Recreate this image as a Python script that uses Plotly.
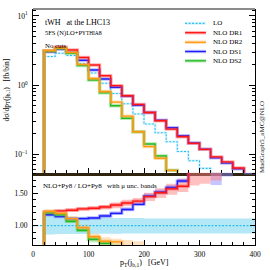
import plotly.graph_objects as go
from plotly.subplots import make_subplots

# ---------------- data ----------------
bin_left = [20, 40, 60, 80, 100, 120, 140, 160, 180, 200, 220, 240, 260, 280, 300, 320, 340, 360, 380]
x_max = 400

lo_main = [2.59, 2.88, 2.68, 2.05, 1.49, 1.06, 0.753, 0.536, 0.38, 0.272, 0.204, 0.151, 0.109, 0.080, 0.062, 0.047, 0.037, 0.029, 0.023]
dr1_main = [3.13, 3.52, 3.21, 2.50, 1.95, 1.36, 0.98, 0.70, 0.525, 0.40, 0.304, 0.23, 0.178, 0.143, 0.117, 0.091, 0.077, 0.063, 0.048]
ds1_main = [3.03, 3.28, 2.97, 2.28, 1.65, 1.22, 0.93, 0.69, 0.51, 0.40, 0.31, 0.24, 0.184, 0.145, 0.118, 0.088, 0.074, 0.061, 0.048]
dr2_main = [3.16, 3.43, 2.97, 1.99, 1.24, 0.805, 0.565, 0.355, 0.21, 0.128, 0.087, 0.058, 0.040, 0.030, 0.024, 0.019, 0.015, 0.012, 0.010]
ds2_main = [3.10, 3.37, 2.87, 1.91, 1.18, 0.77, 0.50, 0.33, 0.21, 0.14, 0.094, 0.058, 0.040, 0.030, 0.025, 0.020, 0.016, 0.013, 0.010]

# ratio panel (NLO+Py8 / LO+Py8)
lo_ratio_left = [0, 20, 40, 60, 80, 100, 120, 140, 160, 180, 200, 220, 240, 260, 280, 300, 320, 340, 360, 380]
lo_ratio = [1.0, 1.0, 1.0, 1.0, 1.0, 1.0, 1.0, 1.0, 1.0, 1.0, 1.0, 1.0, 1.0, 1.0, 1.0, 1.0, 1.0, 1.0, 1.0, 1.0]
lo_band_lo = [0.865, 0.87, 0.87, 0.87, 0.875, 0.875, 0.875, 0.88, 0.88, 0.88, 0.88, 0.88, 0.88, 0.88, 0.88, 0.88, 0.88, 0.88, 0.88]
lo_band_hi = [1.17, 1.15, 1.14, 1.14, 1.13, 1.13, 1.12, 1.12, 1.12, 1.11, 1.11, 1.11, 1.11, 1.11, 1.11, 1.11, 1.11, 1.11, 1.11]

dr1_ratio = [1.21, 1.23, 1.24, 1.26, 1.27, 1.29, 1.32, 1.35, 1.38, 1.45, 1.51, 1.57, 1.61, 1.95, 1.95, 1.95, 1.95, 1.95, 1.95]
dr1_band_lo = [1.19, 1.20, 1.22, 1.23, 1.24, 1.25, 1.27, 1.30, 1.32, 1.38, 1.43, 1.48, 1.52, 1.62, 1.65, 1.70, 1.90, 1.90, 1.90]
dr1_band_hi = [1.24, 1.25, 1.27, 1.29, 1.30, 1.32, 1.36, 1.40, 1.43, 1.51, 1.58, 1.65, 1.72, 2.10, 2.10, 2.10, 2.10, 2.10, 2.10]

ds1_ratio = [1.17, 1.14, 1.11, 1.11, 1.12, 1.15, 1.19, 1.25, 1.33, 1.46, 1.52, 1.59, 1.69, 1.95, 1.95, 1.95, 1.95, 1.95, 1.95]
ds1_band_lo = [1.15, 1.12, 1.09, 1.09, 1.10, 1.13, 1.17, 1.23, 1.31, 1.44, 1.49, 1.56, 1.66, 1.85, 1.85, 1.63, 1.76, 1.90, 1.79]
ds1_band_hi = [1.19, 1.16, 1.13, 1.13, 1.14, 1.18, 1.22, 1.28, 1.36, 1.50, 1.56, 1.63, 1.73, 2.10, 2.10, 2.10, 2.10, 2.10, 2.10]

dr2_ratio = [1.22, 1.19, 1.11, 0.97, 0.83, 0.76, 0.75, 0.66, 0.55, 0.47, 0.43, 0.38, 0.37, 0.37, 0.38, 0.40, 0.40, 0.41, 0.43]
dr2_band_lo = [1.18, 1.15, 1.06, 0.92, 0.77, 0.68, 0.66, 0.60, 0.60, 0.40, 0.35, 0.30, 0.30, 0.30, 0.30, 0.30, 0.30, 0.30, 0.30]
dr2_band_hi = [1.25, 1.22, 1.15, 1.02, 0.88, 0.82, 0.80, 0.78, 0.76, 0.55, 0.50, 0.45, 0.45, 0.45, 0.45, 0.45, 0.45, 0.45, 0.45]

ds2_ratio = [1.20, 1.17, 1.07, 0.93, 0.79, 0.73, 0.66, 0.62, 0.55, 0.51, 0.46, 0.38, 0.37, 0.37, 0.40, 0.42, 0.43, 0.45, 0.43]
ds2_band_lo = [1.18, 1.14, 1.04, 0.90, 0.74, 0.69, 0.60, 0.50, 0.45, 0.40, 0.35, 0.30, 0.30, 0.30, 0.30, 0.30, 0.30, 0.30, 0.30]
ds2_band_hi = [1.22, 1.20, 1.10, 0.96, 0.83, 0.77, 0.72, 0.66, 0.60, 0.55, 0.50, 0.45, 0.45, 0.45, 0.45, 0.45, 0.45, 0.45, 0.45]

names = ["LO", "NLO DR1", "NLO DR2", "NLO DS1", "NLO DS2"]
colors = {"LO": "#27bff0", "NLO DR1": "#ff1414", "NLO DR2": "#ff9a10", "NLO DS1": "#1c1cff", "NLO DS2": "#25b825"}
halos = {"LO": "rgba(39,191,240,0.15)", "NLO DR1": "rgba(255,60,60,0.40)", "NLO DR2": "rgba(255,170,60,0.40)",
         "NLO DS1": "rgba(110,110,255,0.45)", "NLO DS2": "rgba(60,200,60,0.40)"}
bands = {"LO": "#b4e8f7", "NLO DR1": "rgba(255,130,130,0.50)", "NLO DR2": "rgba(255,190,120,0.45)",
         "NLO DS1": "rgba(140,140,255,0.50)", "NLO DS2": "rgba(120,220,120,0.45)"}
DOT = "2px,1.5px"

FONT = "Liberation Serif"

fig = make_subplots(rows=2, cols=1, shared_xaxes=True, vertical_spacing=0,
                    row_heights=[0.694, 0.306])


def step(left, vals, floor):
    xs = [left[0]] + list(left) + [x_max]
    ys = [floor] + list(vals) + [vals[-1]]
    return xs, ys


def add_line(left, vals, name, row, floor, dotted=False):
    xs, ys = step(left, vals, floor)
    fig.add_trace(go.Scatter(x=xs, y=ys, mode="lines",
                             line=dict(shape="hv", color=halos[name], width=2.6 if dotted else 3.4),
                             hoverinfo="skip", showlegend=False), row=row, col=1)
    fig.add_trace(go.Scatter(x=xs, y=ys, mode="lines", name=name,
                             line=dict(shape="hv", color=colors[name], width=1.1 if dotted else 1.4,
                                       dash=DOT if dotted else "solid"),
                             showlegend=False), row=row, col=1)


def add_band(left, lo, hi, name):
    xs = list(left) + [x_max]
    fig.add_trace(go.Scatter(x=xs, y=list(lo) + [lo[-1]], mode="lines", line=dict(shape="hv", width=0),
                             hoverinfo="skip", showlegend=False), row=2, col=1)
    fig.add_trace(go.Scatter(x=xs, y=list(hi) + [hi[-1]], mode="lines", line=dict(shape="hv", width=0),
                             fill="tonexty", fillcolor=bands[name], hoverinfo="skip", showlegend=False), row=2, col=1)


# ---- main panel ----
add_line(bin_left, lo_main, "LO", 1, 1e-4, dotted=True)
add_line(bin_left, ds1_main, "NLO DS1", 1, 1e-4)
add_line(bin_left, dr1_main, "NLO DR1", 1, 1e-4)
add_line(bin_left, ds2_main, "NLO DS2", 1, 1e-4)
add_line(bin_left, dr2_main, "NLO DR2", 1, 1e-4)

# ---- ratio panel ----
add_band(bin_left, lo_band_lo, lo_band_hi, "LO")
add_band(bin_left, ds2_band_lo, ds2_band_hi, "NLO DS2")
add_band(bin_left, dr2_band_lo, dr2_band_hi, "NLO DR2")
add_band(bin_left, ds1_band_lo, ds1_band_hi, "NLO DS1")
add_band(bin_left, dr1_band_lo, dr1_band_hi, "NLO DR1")

xs_lo, ys_lo = lo_ratio_left + [x_max], lo_ratio + [lo_ratio[-1]]
fig.add_trace(go.Scatter(x=xs_lo, y=ys_lo, mode="lines", line=dict(shape="hv", color=colors["LO"], width=1.2, dash=DOT),
                         showlegend=False), row=2, col=1)
add_line(bin_left, ds1_ratio, "NLO DS1", 2, 0.0)
add_line(bin_left, dr1_ratio, "NLO DR1", 2, 0.0)
add_line(bin_left, ds2_ratio, "NLO DS2", 2, 0.0)
add_line(bin_left, dr2_ratio, "NLO DR2", 2, 0.0)

# ---- axes ----
tickfont = dict(family=FONT, size=7.5, color="black")
fig.update_xaxes(range=[0, 400], showgrid=False, zeroline=False, ticks="inside", tickcolor="black",
                 tickvals=[0, 100, 200, 300, 400], ticklen=5,
                 minor=dict(ticks="inside", dtick=20, ticklen=3, tickcolor="black", showgrid=False))
fig.update_xaxes(row=1, col=1, showline=True, linecolor="#2e2410", linewidth=2.5, showticklabels=False, mirror=False)
fig.update_xaxes(row=2, col=1, showline=True, linecolor="black", linewidth=1, showticklabels=True,
                 ticktext=["0", "100", "200", "300", "400"], tickfont=tickfont, ticklabelstandoff=2)

log_minor = [0.06, 0.07, 0.08, 0.09, 0.2, 0.3, 0.4, 0.5, 0.6, 0.7, 0.8, 0.9, 2, 3, 4, 5, 6, 7, 8, 9, 12]
fig.update_yaxes(row=1, col=1, type="log", range=[-1.271, 1.101], showgrid=False, zeroline=False,
                 showline=True, linecolor="black", linewidth=1, mirror="allticks",
                 ticks="inside", ticklen=6, tickcolor="black",
                 tickvals=[0.1, 1, 10], ticktext=["10<sup>−1</sup>", "10<sup>0</sup>", "10<sup>1</sup>"],
                 tickfont=tickfont, ticklabelstandoff=3,
                 minor=dict(ticks="inside", tickvals=log_minor, ticklen=3, tickcolor="black", showgrid=False))
fig.update_yaxes(row=2, col=1, range=[0.702, 1.818], showgrid=False, zeroline=False,
                 showline=True, linecolor="black", linewidth=1, mirror="allticks",
                 ticks="inside", ticklen=5, tickcolor="black",
                 tickvals=[1.0, 1.5], ticktext=["1.00", "1.50"], tickfont=tickfont, ticklabelstandoff=3,
                 minor=dict(ticks="inside", dtick=0.1, ticklen=3, tickcolor="black", showgrid=False))

# ---- texts / frame ----
ann = []


def A(text, x, y, size=7, xanchor="left", yanchor="middle", angle=0, color="black"):
    ann.append(dict(text=text, x=x, y=y, xref="paper", yref="paper", showarrow=False, xanchor=xanchor,
                    yanchor=yanchor, textangle=angle, font=dict(family=FONT, size=size, color=color)))


A("tWH\u00a0\u00a0\u00a0at the LHC13", 0.045, 0.942, size=8)
A("5FS (N)LO+P<span style='font-size:5.3px'>YTHIA</span>8", 0.045, 0.897, size=6.5)
A("No cuts", 0.045, 0.847, size=6.8)
A("NLO+Py8 / LO+Py8\u00a0\u00a0\u00a0with μ unc. bands", 0.036, 0.252, size=7)
A("dσ/dp<sub>T</sub>(j<sub>b,1</sub>)\u00a0\u00a0\u00a0[fb/bin]", -0.117, 0.655, size=7.5, xanchor="center", angle=-90)
A("p<sub>T</sub>(j<sub>b,1</sub>)\u00a0\u00a0\u00a0[GeV]", 0.5, -0.078, size=8, xanchor="center")
A("MadGraph5_aMC@NLO", 1.032, 0.458, size=7, xanchor="center", angle=-90, color="#222222")

shapes = [dict(type="line", xref="paper", yref="paper", x0=0, x1=1, y0=1, y1=1, line=dict(color="#8c8c8c", width=2))]

legend_y = [0.9394, 0.8996, 0.859, 0.8199, 0.7805]
for nm, yy in zip(names, legend_y):
    shapes.append(dict(type="line", xref="paper", yref="paper", x0=0.685, x1=0.779, y0=yy, y1=yy,
                       line=dict(color=halos[nm], width=3.4)))
    shapes.append(dict(type="line", xref="paper", yref="paper", x0=0.685, x1=0.779, y0=yy, y1=yy,
                       line=dict(color=colors[nm], width=1.3, dash=DOT if nm == "LO" else "solid")))
    A(nm, 0.802, yy, size=7)

fig.update_layout(width=270, height=270, margin=dict(l=33, r=15, t=9, b=25),
                  paper_bgcolor="white", plot_bgcolor="white", showlegend=False,
                  annotations=ann, shapes=shapes, font=dict(family=FONT))

# remove the browser's default body margin so the 270px figure fills the window; hide the mode bar
fig.write_html("out.html", config={"displayModeBar": False},
               post_script="document.body.style.margin='0';")
